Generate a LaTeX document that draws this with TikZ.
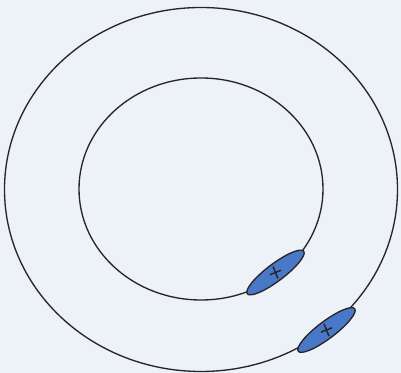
\documentclass[tikz,border=0pt]{standalone}
\usepackage{tikz}
\usepackage{xcolor}
\usetikzlibrary{
    positioning,
    calc,
    shapes.geometric
}
\definecolor{FundoPapel}{HTML}{EDF1F8}
\definecolor{AzulCarga}{HTML}{4A78C8}
\definecolor{Traco}{HTML}{2A2426}

\tikzset{
    anel/.style={draw=Traco, line width=1pt},
    carga/.style={
        ellipse,
        draw=Traco,
        line width=1pt,
        fill=AzulCarga,
        minimum width=53pt,
        minimum height=13pt,
        inner sep=0pt,
        rotate=37
    },
    sinal/.style={draw=Traco, line width=1.1pt}
}

\begin{document}
\begin{tikzpicture}[x=0.75pt, y=-0.75pt]

    % fundo e limites
    \fill[FundoPapel] (0,0) rectangle (401,373);
    \useasboundingbox (0,0) rectangle (401,373);

    % aneis
    \draw[anel] (201,189.5) ellipse [x radius=196.5, y radius=182];
    \draw[anel] (201,189) ellipse [x radius=122, y radius=111];

    % cargas
    \node[carga] (cargaInterna) at (275.5,272.5) {};
    \node[carga] (cargaExterna) at (326.5,330) {};

    \foreach \c in {cargaInterna, cargaExterna}{
        \begin{scope}[shift={(\c.center)}, rotate=22]
            \draw[sinal] (-6,0) -- (6,0);
            \draw[sinal] (0,-6.5) -- (0,6.5);
        \end{scope}
    }

\end{tikzpicture}
\end{document}
